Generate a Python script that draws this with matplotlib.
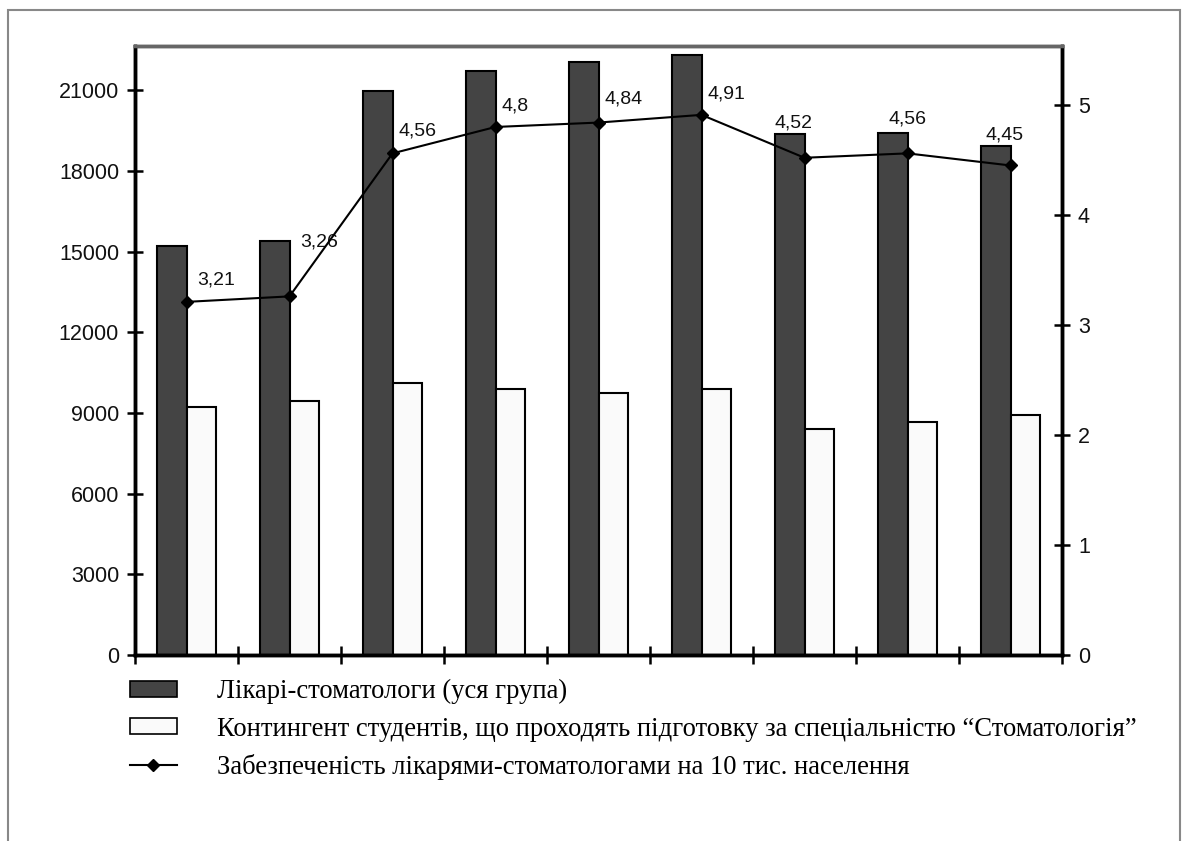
import matplotlib
matplotlib.use("Agg")
import matplotlib.pyplot as plt
import numpy as np
from matplotlib.patches import Rectangle, Patch
from matplotlib.lines import Line2D

# ---- data ----
categories = ["1", "2", "3", "4", "5", "6", "7", "8", "9"]
dentists = [15220, 15380, 20960, 21720, 22030, 22290, 19360, 19420, 18920]
students = [9230, 9430, 10120, 9880, 9750, 9880, 8410, 8660, 8930]
provision = [3.21, 3.26, 4.56, 4.8, 4.84, 4.91, 4.52, 4.56, 4.45]
provision_labels = ["3,21", "3,26", "4,56", "4,8", "4,84", "4,91", "4,52", "4,56", "4,45"]
left_ticks = [0, 3000, 6000, 9000, 12000, 15000, 18000, 21000]
right_ticks = [0, 1, 2, 3, 4, 5]
legend_labels = [
    "Лікарі-стоматологи (уся група)",
    "Контингент студентів, що проходять підготовку за спеціальністю “Стоматологія”",
    "Забезпеченість лікарями-стоматологами на 10 тис. населення",
]

# label placement (style): offsets in points and alignment
label_offsets = [(8, 16), (8, 39), (4, 16), (4, 15), (4, 17), (4, 15), (-8, 25), (0, 25), (-4, 22)]
label_ha = ["left", "left", "left", "left", "left", "left", "center", "center", "center"]

W, H = 1189, 841
fig = plt.figure(figsize=(W / 100, H / 100), dpi=100)
ax = fig.add_axes([135 / W, 1 - 655 / H, (1062 - 135) / W, (655 - 46) / H])
ax2 = ax.twinx()

x = np.arange(len(categories))
bw = 0.286
ax.bar(x - bw / 2, dentists, width=bw, color="#444444", edgecolor="black", linewidth=1.5, zorder=2)
ax.bar(x + bw / 2, students, width=bw, color="#fafafa", edgecolor="black", linewidth=1.5, zorder=2)

ax.set_xlim(-0.5, len(categories) - 0.5)
ax.set_ylim(0, 22640)
ax.set_yticks(left_ticks)
ax.set_yticklabels([str(t) for t in left_ticks])
ax.set_xticks(np.arange(-0.5, len(categories), 1.0))
ax.set_xticklabels([])

ax2.set_ylim(0, 5.536)
ax2.set_yticks(right_ticks)
ax2.set_yticklabels([str(t) for t in right_ticks])
ax2.plot(x, provision, color="black", linewidth=1.5, marker="D", markersize=6.5, zorder=5)

for xi, v, lab, off, ha in zip(x, provision, provision_labels, label_offsets, label_ha):
    ax2.annotate(lab, (xi, v), xytext=off, textcoords="offset points", ha=ha, va="center",
                 fontsize=14, family="Liberation Sans", color="#111111")

for a in (ax, ax2):
    for s in ("left", "right", "bottom"):
        a.spines[s].set_linewidth(2.5)
        a.spines[s].set_color("black")
    a.spines["top"].set_color("#666666")
    a.spines["top"].set_linewidth(2.5)

ax.tick_params(axis="y", direction="inout", length=11, width=1.8, pad=6, labelsize=15.5)
ax.tick_params(axis="x", direction="inout", length=13, width=1.8)
ax2.tick_params(axis="y", direction="inout", length=11, width=1.8, pad=6, labelsize=15.5)
for lbl in ax.get_yticklabels() + ax2.get_yticklabels():
    lbl.set_family("Liberation Sans")
    lbl.set_color("#111111")

# legend
handles = [
    Patch(facecolor="#444444", edgecolor="black", linewidth=1.2),
    Patch(facecolor="#fafafa", edgecolor="black", linewidth=1.2),
    Line2D([0], [0], color="black", linewidth=1.5, marker="D", markersize=6),
]
fig.legend(handles, legend_labels, loc="upper left", bbox_to_anchor=(130 / W, 1 - 679 / H),
           frameon=False, borderpad=0, borderaxespad=0, handlelength=1.75, handleheight=0.55,
           handletextpad=1.5, labelspacing=0.47,
           prop={"family": "Liberation Serif", "size": 19.2})

# outer frame
fig.patches.append(Rectangle((8 / W, -0.05), (1180 - 8) / W, 1 - 10 / H + 0.05,
                             transform=fig.transFigure, fill=False, edgecolor="#888888", linewidth=1.5))

fig.savefig("out.png", dpi=100, facecolor="white")
